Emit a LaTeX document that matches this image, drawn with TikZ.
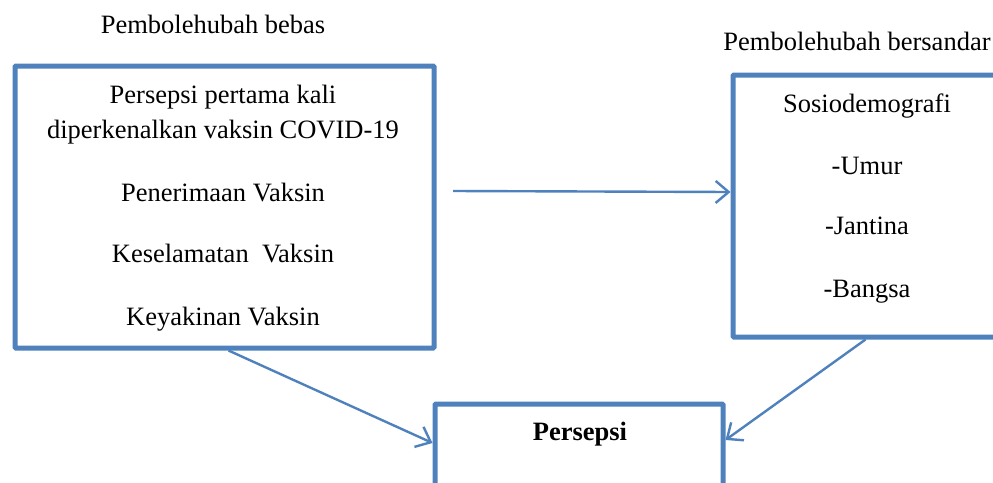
\documentclass[tikz,border=0pt]{standalone}
\usepackage{fontspec}
\setmainfont{Liberation Serif}
\usetikzlibrary{arrows.meta}
\definecolor{obl}{HTML}{4F81BD}
\tikzset{
  boxa/.style={draw=obl, line width=5pt, rounded corners=1pt, inner sep=0pt},
  lbl/.style={anchor=base, inner sep=0pt, font=\fontsize{26.5}{32}\selectfont},
  conn/.style={draw=obl, line width=2.4pt, -{Straight Barb[length=13pt,width=22pt,line width=2.4pt]}}
}
\begin{document}
\begin{tikzpicture}[x=1pt,y=-1pt]
\useasboundingbox (0,0) rectangle (993,482);
\clip (0,0) rectangle (993,482);
% boxes
\node[boxa, minimum width=419pt, minimum height=282pt] (lbox) at (224.5,207) {};
\node[boxa, minimum width=277pt, minimum height=262pt] (rbox) at (871.5,206) {};
\node[boxa, minimum width=288pt, minimum height=106pt] (bbox) at (579,457) {};
% headings
\node[lbl] (hbebas) at (213,33) {Pembolehubah bebas};
\node[lbl] (hbers) at (857,50) {Pembolehubah bersandar};
% left box texts
\node[lbl] (t1) at (223,103) {Persepsi pertama kali};
\node[lbl] (t2) at (223,138) {diperkenalkan vaksin COVID-19};
\node[lbl] (t3) at (223,201) {Penerimaan Vaksin};
\node[lbl] (t4) at (223,262) {Keselamatan\ \ Vaksin};
\node[lbl] (t5) at (223,325) {Keyakinan Vaksin};
% right box texts
\node[lbl] (r1) at (867,112) {Sosiodemografi};
\node[lbl] (r2) at (867,174) {-Umur};
\node[lbl] (r3) at (867,234) {-Jantina};
\node[lbl] (r4) at (867,297) {-Bangsa};
% bottom box text
\node[lbl] (b1) at (580,440) {\bfseries Persepsi};
% connectors
\coordinate (a3) at (453,191);
\draw[conn] (a3) -- ([yshift=14pt]rbox.west);
\draw[conn] ([xshift=4pt]lbox.south) -- ([yshift=14pt]bbox.west);
\draw[conn] ([xshift=-6pt]rbox.south) -- ([yshift=17pt]bbox.east);
\end{tikzpicture}
\end{document}
